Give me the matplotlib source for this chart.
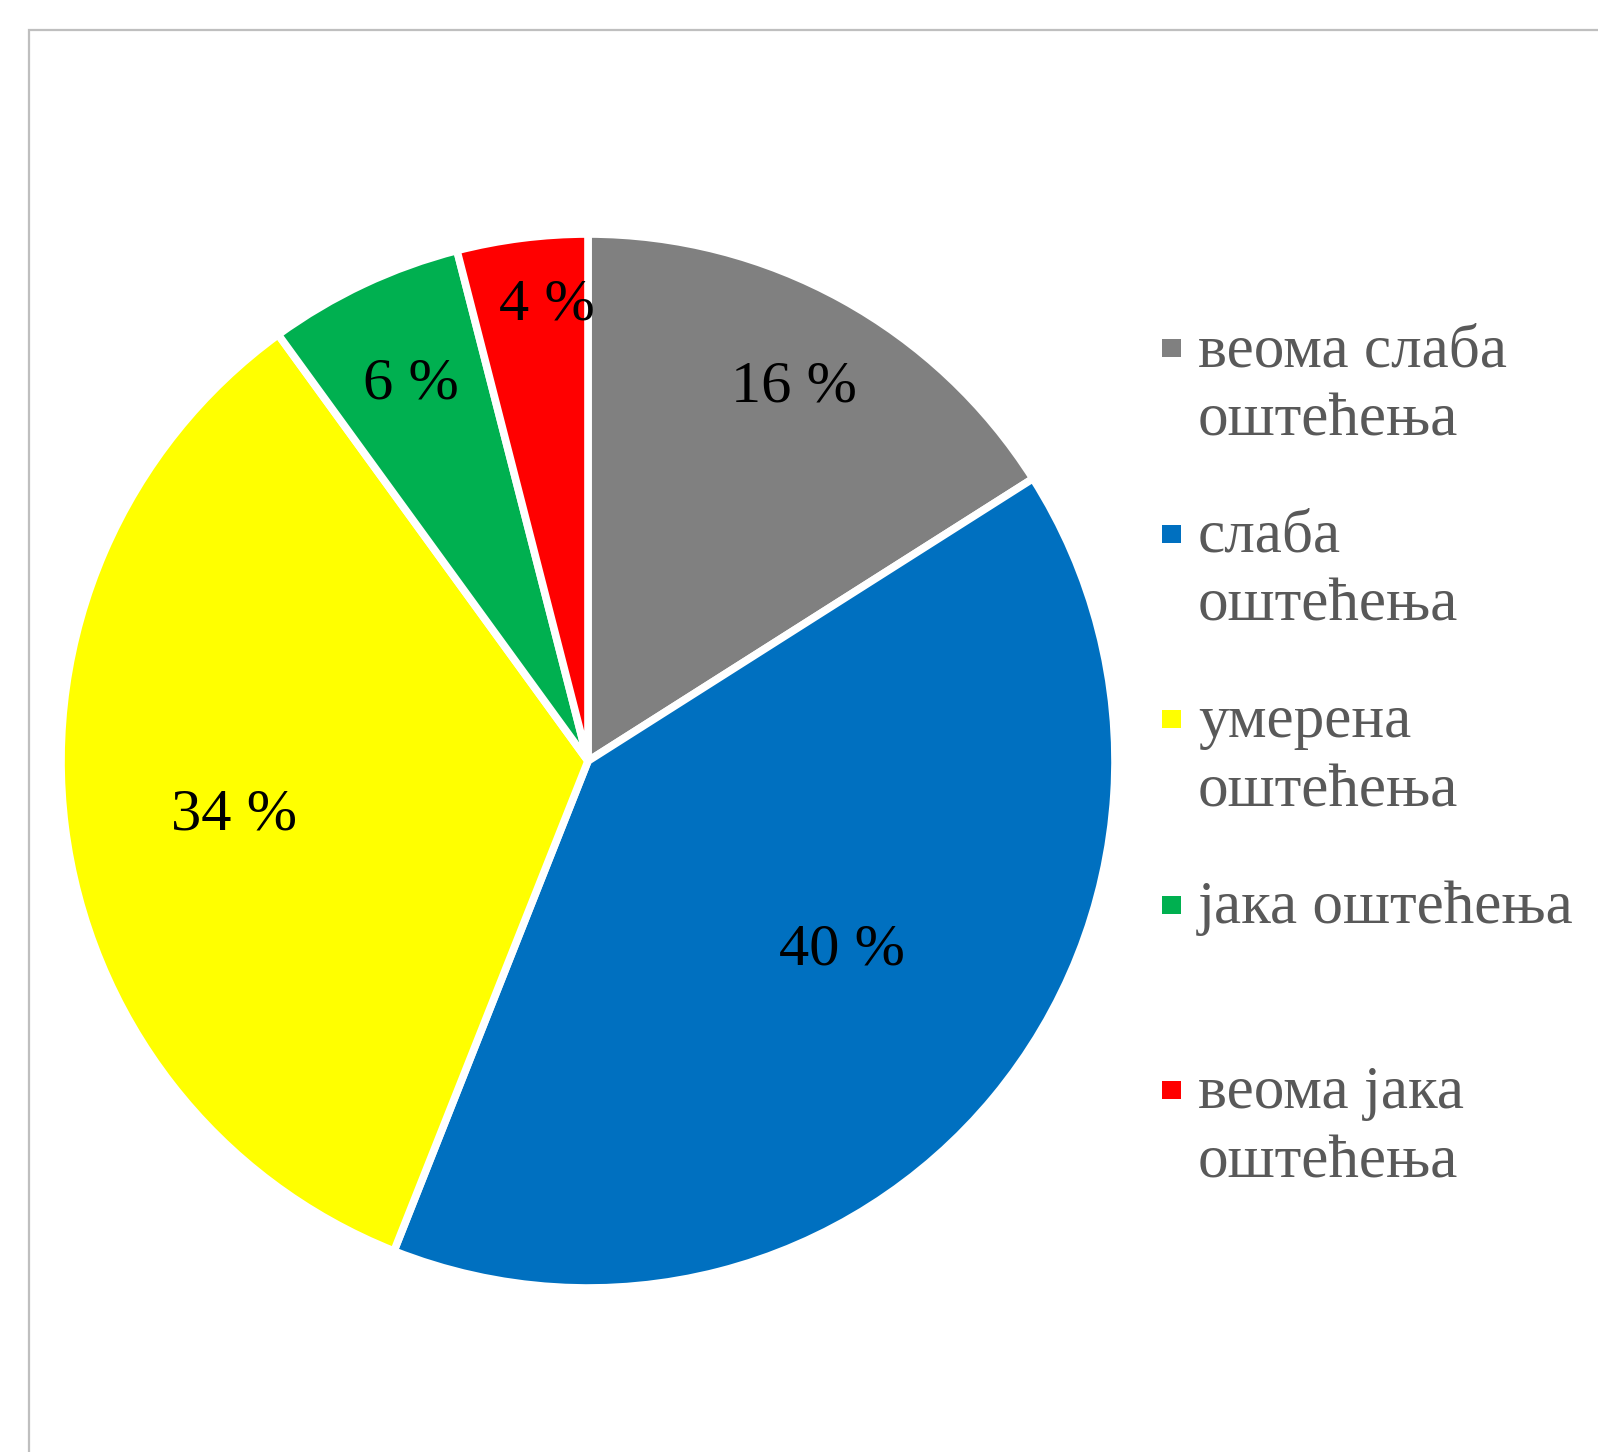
import matplotlib.pyplot as plt
import numpy as np
from matplotlib.patches import Rectangle

categories = ['веома слаба\nоштећења', 'слаба\nоштећења', 'умерена\nоштећења',
              'јака оштећења', 'веома јака\nоштећења']
shares = [16, 40, 34, 6, 4]
colors = ['#808080', '#0070c0', '#ffff00', '#00b050', '#ff0000']

W, H = 1598, 1452
fig = plt.figure(figsize=(W / 100, H / 100), dpi=100, facecolor='white')
plt.rcParams['font.family'] = ['Liberation Serif', 'DejaVu Serif']

# chart frame (right and bottom edges fall outside the canvas)
fig.add_artist(Rectangle((29 / W, 1 - 1480 / H), 1600 / W, 1450 / H,
                         transform=fig.transFigure, fill=False,
                         edgecolor='#bfbfbf', linewidth=1.6))

cx, cy, r = 588, 761, 527
ax = fig.add_axes([(cx - r) / W, (H - cy - r) / H, 2 * r / W, 2 * r / H])
wedges, _ = ax.pie(shares, colors=colors, startangle=90, counterclock=False,
                   wedgeprops=dict(edgecolor='white', linewidth=5.5, joinstyle='round'))
ax.set_xlim(-1, 1)
ax.set_ylim(-1, 1)
ax.axis('off')

# data labels: distance from centre and angle shift from the slice middle
label_r = [0.81, 0.60, 0.68, 0.79, 0.87]
label_shift = [0.0, 3.0, 1.5, 0.0, -2.0]
for w, val, lr, sh in zip(wedges, shares, label_r, label_shift):
    mid = np.deg2rad((w.theta1 + w.theta2) / 2 + sh)
    ax.text(lr * np.cos(mid), lr * np.sin(mid) + 0.011, f'{val} %', ha='center',
            va='center_baseline', fontsize=43.5, color='black')

# legend on the right, one fixed-height slot per entry
slot_top = 345
slot_h = 185.5
line_h = 69
for i, (lab, c) in enumerate(zip(categories, colors)):
    y0 = slot_top + i * slot_h
    fig.add_artist(Rectangle((1162 / W, 1 - (y0 + 12) / H), 19 / W, 18 / H,
                             transform=fig.transFigure, facecolor=c, edgecolor='none'))
    for j, line in enumerate(lab.split('\n')):
        fig.text(1198 / W, 1 - (y0 + j * line_h) / H, line, ha='left',
                 va='center_baseline', fontsize=44, color='#595959')

fig.savefig('out.png', dpi=100, facecolor='white')
